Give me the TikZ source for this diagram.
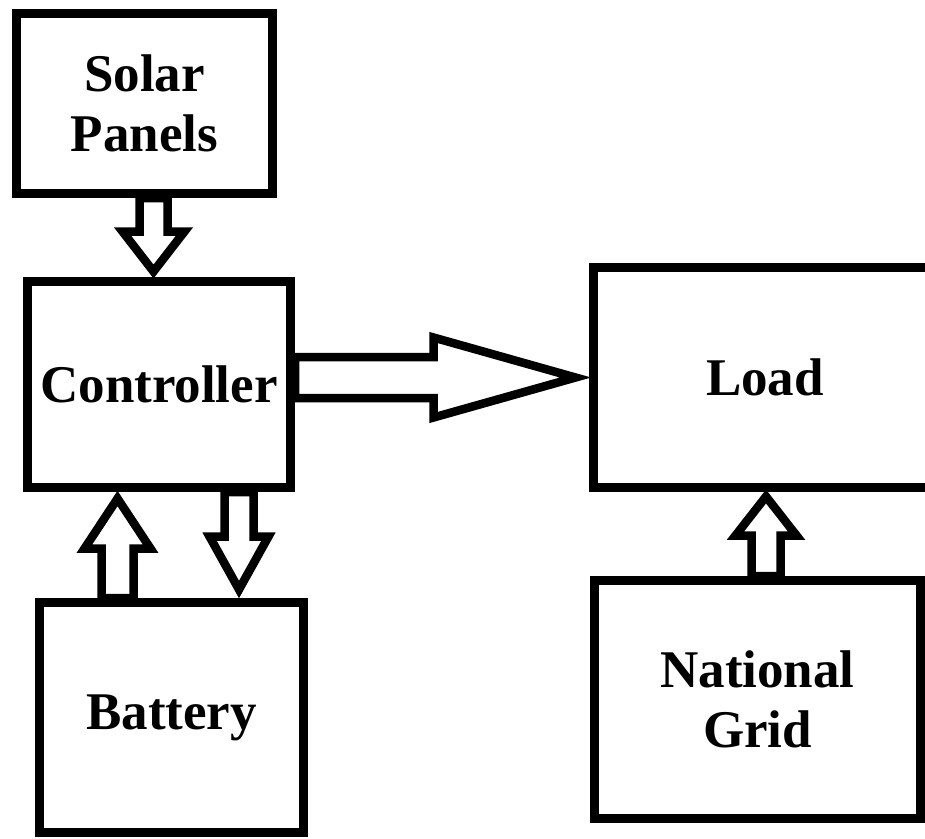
\documentclass[tikz,border=0pt]{standalone}
\usepackage{fontspec}
\setmainfont{Liberation Serif}
\usetikzlibrary{calc}

\begin{document}
\begin{tikzpicture}[
  x=1pt, y=-1pt,
  unit/.style={rectangle, draw=black, line width=9pt, align=center,
               inner sep=0pt, font=\fontsize{53}{60}\selectfont\bfseries},
  fat/.style args={#1/#2/#3}{draw=black, line width=8.5pt, line join=miter,
    to path={
      ($(\tikztostart)!#1!90:(\tikztotarget)$)
      -- ($($(\tikztotarget)!#3!(\tikztostart)$)!#1!90:(\tikztotarget)$)
      -- ($($(\tikztotarget)!#3!(\tikztostart)$)!#2!90:(\tikztotarget)$)
      -- (\tikztotarget)
      -- ($($(\tikztotarget)!#3!(\tikztostart)$)!#2!-90:(\tikztotarget)$)
      -- ($($(\tikztotarget)!#3!(\tikztostart)$)!#1!-90:(\tikztotarget)$)
      -- ($(\tikztostart)!#1!-90:(\tikztotarget)$) -- cycle}}
]
\useasboundingbox (0,0) rectangle (925,838);

% ===== Left column =====
\node[unit, minimum width=256pt, minimum height=180pt] (solar) at (144.5,103.5)
  {Solar\\Panels};
\node[unit, minimum width=263pt, minimum height=206pt] (ctrl) at (159,384.5)
  {Controller};
\node[unit, minimum width=264pt, minimum height=230pt] (battery) at (171.5,717.5)
  {Battery};

% ===== Right column =====
\node[unit, minimum width=343pt, minimum height=220pt] (load) at (765,377.5)
  {Load};
\node[unit, minimum width=326pt, minimum height=238pt] (grid) at (757.5,699.5)
  {National\\Grid};

% ===== Block arrows =====
\draw[fat=14pt/31pt/40pt] ([xshift=9pt]solar.south)
  to ([xshift=-5.5pt,yshift=5.5pt]ctrl.north);
\draw[fat=20.5pt/40pt/142pt] ([yshift=7pt]ctrl.east)
  to ([xshift=-13.5pt]load.west);
\draw[fat=16pt/33pt/50pt] ([xshift=-54pt]battery.north)
  to ([xshift=-41.5pt,yshift=-6.5pt]ctrl.south);
\draw[fat=14.5pt/29.5pt/53pt] ([xshift=80pt]ctrl.south)
  to ([xshift=67.5pt,yshift=8.5pt]battery.north);
\draw[fat=14.5pt/30.5pt/39pt] ([xshift=8.5pt]grid.north)
  to ([xshift=1pt,yshift=-4.5pt]load.south);

\end{tikzpicture}
\end{document}
